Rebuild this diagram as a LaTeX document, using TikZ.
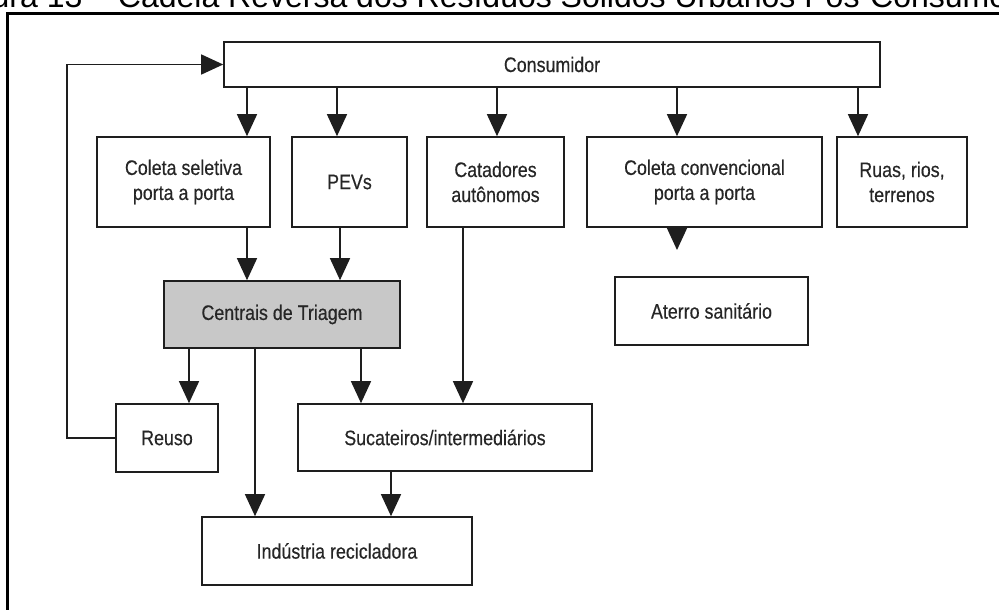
\documentclass[tikz,border=0pt]{standalone}
\usepackage{fontspec}
\setmainfont{Liberation Sans}
\newfontfamily\narrowfont{Liberation Sans}[FakeStretch=0.85,FakeBold=0.4]
\usepackage{tikz}
\usetikzlibrary{arrows.meta}
\definecolor{triagemgray}{RGB}{200,200,200}
\definecolor{boxline}{RGB}{30,30,30}

\begin{document}
\begin{tikzpicture}[x=1pt, y=-1pt,
  paths/.style={-{Triangle[width=20pt,length=22pt]}, line width=1.4pt, draw=boxline},
  stage/.style={draw=boxline, line width=1.6pt, inner sep=0pt, align=center,
    text=black!85, font=\narrowfont\fontsize{21}{25}\selectfont},
  frame/.style={line width=2.2pt}]

 \useasboundingbox (0,0) rectangle (999,610);
 \clip (0,0) rectangle (999,610);

 \node [anchor=base west, inner sep=0pt, font=\fontsize{32}{32}\selectfont] (title) at (-53,7.5)
     {Figura 13 – Cadeia Reversa dos Resíduos Sólidos Urbanos Pós-Consumo};

 \draw [frame] (7.5,700) |- (1100,13.5);


 \node [stage, minimum width=656, minimum height=45] (stage_consumidor) at (552,64.5)
     {Consumidor};

 \node [stage, minimum width=173, minimum height=90] (stage_seletiva) at (183.5,182)
     {Coleta seletiva\\porta a porta};

 \node [stage, minimum width=115, minimum height=90] (stage_pevs) at (349.5,182)
     {PEVs};

 \node [stage, minimum width=137, minimum height=90] (stage_catadores) at (495.5,182)
     {Catadores\\autônomos};

 \node [stage, minimum width=235, minimum height=90] (stage_convencional) at (704.5,182)
     {Coleta convencional\\porta a porta};

 \node [stage, minimum width=130, minimum height=90] (stage_ruas) at (902,182)
     {Ruas, rios,\\terrenos};

 \node [stage, fill=triagemgray, minimum width=236, minimum height=67] (stage_triagem) at (282,314.5)
     {Centrais de Triagem};

 \node [stage, minimum width=193, minimum height=68] (stage_aterro) at (711.5,311)
     {Aterro sanitário};

 \node [stage, minimum width=102, minimum height=68] (stage_reuso) at (167,438)
     {Reuso};

 \node [stage, minimum width=294, minimum height=67] (stage_sucateiros) at (445,437.5)
     {Sucateiros/intermediários};

 \node [stage, minimum width=270, minimum height=68] (stage_industria) at (337,551)
     {Indústria recicladora};

 \coordinate (aterro_in) at (677,250);


 \draw [paths] (247,0 |- stage_consumidor.south) -- (247,0 |- stage_seletiva.north);
 \draw [paths] (337,0 |- stage_consumidor.south) -- (337,0 |- stage_pevs.north);
 \draw [paths] (497,0 |- stage_consumidor.south) -- (497,0 |- stage_catadores.north);
 \draw [paths] (677,0 |- stage_consumidor.south) -- (677,0 |- stage_convencional.north);
 \draw [paths] (858,0 |- stage_consumidor.south) -- (858,0 |- stage_ruas.north);

 \draw [paths] (247,0 |- stage_seletiva.south) -- (247,0 |- stage_triagem.north);
 \draw [paths] (340,0 |- stage_pevs.south) -- (340,0 |- stage_triagem.north);
 \draw [paths] (463,0 |- stage_catadores.south) -- (463,0 |- stage_sucateiros.north);
 \draw [paths] (677,0 |- stage_convencional.south) -- (aterro_in);

 \draw [paths] (189,0 |- stage_triagem.south) -- (189,0 |- stage_reuso.north);
 \draw [paths] (361,0 |- stage_triagem.south) -- (361,0 |- stage_sucateiros.north);
 \draw [paths] (255,0 |- stage_triagem.south) -- (255,0 |- stage_industria.north);
 \draw [paths] (391,0 |- stage_sucateiros.south) -- (391,0 |- stage_industria.north);

 \draw [paths] (stage_reuso.west) -- (67,0 |- stage_reuso.west)
     -- (67,0 |- stage_consumidor.west) -- (stage_consumidor.west);


\end{tikzpicture}
\end{document}
